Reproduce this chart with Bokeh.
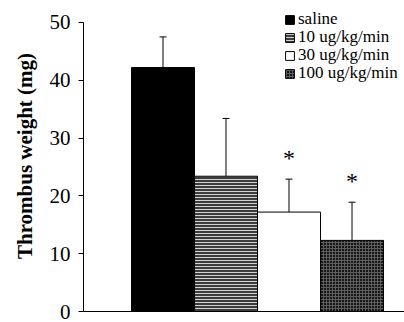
from bokeh.plotting import figure
from bokeh.models import Range1d, Whisker, ColumnDataSource, TeeHead, Legend, LegendItem, FixedTicker
from bokeh.core.properties import value
from bokeh.embed import file_html
from bokeh.resources import INLINE

categories = ["saline", "10 ug/kg/min", "30 ug/kg/min", "100 ug/kg/min"]
means = [42.2, 23.4, 17.2, 12.3]
errors = [5.3, 10.0, 5.7, 6.6]
stars = ["", "", "*", "*"]
y_ticks = [0, 10, 20, 30, 40, 50]

fills = ["black", "#3c3c3c", "white", "#161616"]
hatches = [" ", "horizontal_line", " ", "cross"]
hatch_colors = ["black", "#d0d0d0", "black", "#5e5e5e"]

FONT = "Liberation Serif"

p = figure(width=404, height=322, output_backend="svg", toolbar_location=None,
           x_range=Range1d(-0.262, 4.833), y_range=Range1d(0, 53.8),
           min_border_left=83, min_border_right=0, min_border_top=0, min_border_bottom=11)
p.outline_line_color = None
p.grid.visible = False

xs = [i + 1 for i in range(len(categories))]
renderers = []
for x, m, fc, hp, hc in zip(xs, means, fills, hatches, hatch_colors):
    r = p.vbar(x=[x], top=[m], width=1.0, bottom=0, fill_color=fc, line_color="black",
               line_width=1, hatch_pattern=hp, hatch_color=hc, hatch_scale=3, hatch_weight=1)
    renderers.append(r)

src = ColumnDataSource(dict(x=xs, base=means, upper=[m + e for m, e in zip(means, errors)],
                            star=stars, sy=[m + e + 3.7 for m, e in zip(means, errors)]))
w = Whisker(base="x", lower="base", upper="upper", source=src, dimension="height",
            line_color="black", line_width=1,
            upper_head=TeeHead(size=7, line_color="black", line_width=1), lower_head=None)
p.add_layout(w)

p.text(x="x", y="sy", text="star", source=src, text_font=value(FONT), text_font_size="24px",
       text_align="center", text_baseline="middle", text_color="black")

row_bottoms = [282, 264, 246, 228]
for c, r, yb in zip(categories, renderers, row_bottoms):
    lg = Legend(items=[LegendItem(label=c, renderers=[r])],
                location=(201, yb), padding=0, spacing=0, margin=0,
                label_text_font=FONT, label_text_font_size="17px", label_text_color="black",
                label_height=17, glyph_height=11, glyph_width=11, label_standoff=3,
                background_fill_alpha=0, border_line_color=None)
    p.add_layout(lg)

p.yaxis.ticker = FixedTicker(ticks=y_ticks)
p.yaxis.bounds = (0, 50)
p.yaxis.axis_label = "Thrombus weight (mg)"
p.yaxis.axis_label_text_font = FONT
p.yaxis.axis_label_text_font_style = "bold"
p.yaxis.axis_label_text_font_size = "21px"
p.yaxis.axis_label_text_color = "black"
p.yaxis.axis_label_standoff = 10
p.yaxis.major_label_text_font = FONT
p.yaxis.major_label_text_font_size = "21px"
p.yaxis.major_label_text_color = "black"
p.yaxis.major_label_standoff = 8
p.yaxis.major_tick_in = 0
p.yaxis.major_tick_out = 5
p.yaxis.major_tick_line_color = "black"
p.yaxis.minor_tick_line_color = None
p.yaxis.axis_line_color = "black"

p.xaxis.ticker = FixedTicker(ticks=[])
p.xaxis.major_tick_line_color = None
p.xaxis.minor_tick_line_color = None
p.xaxis.axis_line_color = "black"

open("out.html", "w").write(file_html(p, INLINE))
